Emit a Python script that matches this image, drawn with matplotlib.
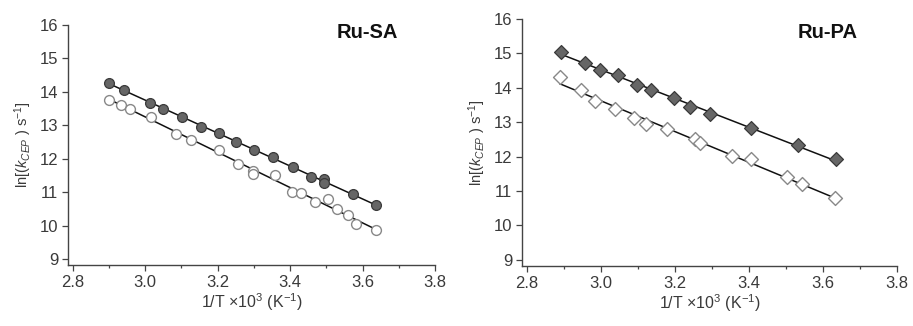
import numpy as np
import matplotlib
matplotlib.use("Agg")
import matplotlib.pyplot as plt
from matplotlib.ticker import MultipleLocator

plt.rcParams['font.family'] = ['Liberation Sans', 'DejaVu Sans']
plt.rcParams['mathtext.fontset'] = 'custom'
plt.rcParams['mathtext.rm'] = 'Liberation Sans'
plt.rcParams['mathtext.it'] = 'Liberation Sans:italic'
plt.rcParams['mathtext.bf'] = 'Liberation Sans:bold'

# Ru-SA
sa_filled_x = [2.900, 2.941, 3.014, 3.049, 3.101, 3.155, 3.203, 3.252, 3.300, 3.353,
               3.408, 3.459, 3.494, 3.494, 3.574, 3.636]
sa_filled_y = [14.27, 14.05, 13.68, 13.50, 13.25, 12.95, 12.77, 12.50, 12.25, 12.05,
               11.76, 11.46, 11.38, 11.28, 10.93, 10.61]
sa_open_x = [2.900, 2.932, 2.957, 3.017, 3.086, 3.127, 3.204, 3.256, 3.298, 3.298,
             3.358, 3.406, 3.431, 3.468, 3.505, 3.530, 3.560, 3.583, 3.636]
sa_open_y = [13.77, 13.60, 13.48, 13.25, 12.75, 12.57, 12.25, 11.85, 11.62, 11.55,
             11.51, 11.01, 10.98, 10.71, 10.79, 10.49, 10.31, 10.06, 9.88]

# Ru-PA
pa_filled_x = [2.893, 2.956, 2.999, 3.046, 3.098, 3.136, 3.198, 3.241, 3.296, 3.406,
               3.533, 3.635]
pa_filled_y = [15.05, 14.71, 14.53, 14.36, 14.07, 13.95, 13.70, 13.43, 13.24, 12.83,
               12.33, 11.92]
pa_open_x = [2.890, 2.946, 2.985, 3.038, 3.090, 3.122, 3.180, 3.255, 3.267, 3.354,
             3.406, 3.502, 3.544, 3.632]
pa_open_y = [14.30, 13.95, 13.63, 13.37, 13.11, 12.94, 12.81, 12.50, 12.40, 12.03,
             11.92, 11.41, 11.20, 10.79]

xticks = [2.8, 3.0, 3.2, 3.4, 3.6, 3.8]
yticks = [9, 10, 11, 12, 13, 14, 15, 16]
titles = ["Ru-SA", "Ru-PA"]

W, H = 913, 326
fig = plt.figure(figsize=(W / 100, H / 100), dpi=100)
ax1 = fig.add_axes([68 / W, 1 - 265 / H, 367 / W, 240 / H])
ax2 = fig.add_axes([522 / W, 1 - 266 / H, 375 / W, 247 / H])

txt = '#3a3a3a'

def fit_line(ax, x, y):
    p = np.polyfit(x, y, 1)
    xs = np.array([min(x), max(x)])
    ax.plot(xs, np.polyval(p, xs), color='#111111', lw=1.1, zorder=2)

def style(ax, title, tx, ty):
    ax.set_xlim(2.787, 3.8)
    ax.set_ylim(8.82, 16)
    ax.set_xticks(xticks)
    ax.set_xticklabels([f"{v:.1f}" for v in xticks])
    ax.set_yticks(yticks)
    ax.xaxis.set_minor_locator(MultipleLocator(0.1))
    ax.tick_params(which='major', direction='out', length=4, width=0.9,
                   labelsize=12, colors='#444444', labelcolor=txt, pad=3)
    ax.tick_params(which='minor', direction='out', length=2.5, width=0.9, colors='#444444')
    for s in ['top', 'right']:
        ax.spines[s].set_visible(False)
    for s in ['left', 'bottom']:
        ax.spines[s].set_color('#444444')
        ax.spines[s].set_linewidth(1.0)
    ax.set_xlabel(r"1/T $\times$10$^{3}$ (K$^{-1}$)", fontsize=11.5, color=txt, labelpad=1)
    ax.set_ylabel(r"ln[($k_{CEP}$ ) s$^{-1}$]", fontsize=10.5, color=txt, labelpad=4)
    ax.text(tx, ty, title, transform=ax.transAxes, fontsize=14.5, fontweight='bold',
            ha='center', va='center', color='#111111')

# Left panel
ax1.scatter(sa_open_x, sa_open_y, s=50, facecolors='white', edgecolors='#888888',
            linewidths=1.0, zorder=3)
ax1.scatter(sa_filled_x, sa_filled_y, s=50, facecolors='#666666', edgecolors='#3a3a3a',
            linewidths=0.9, zorder=3)
fit_line(ax1, sa_filled_x, sa_filled_y)
fit_line(ax1, sa_open_x, sa_open_y)
style(ax1, titles[0], 0.815, 0.967)

# Right panel
ax2.scatter(pa_open_x, pa_open_y, s=50, marker='D', facecolors='white', edgecolors='#888888',
            linewidths=1.0, zorder=3)
ax2.scatter(pa_filled_x, pa_filled_y, s=50, marker='D', facecolors='#666666', edgecolors='#3a3a3a',
            linewidths=0.9, zorder=3)
fit_line(ax2, pa_filled_x, pa_filled_y)
fit_line(ax2, pa_open_x, pa_open_y)
style(ax2, titles[1], 0.816, 0.947)

fig.savefig("out.png", dpi=100)
